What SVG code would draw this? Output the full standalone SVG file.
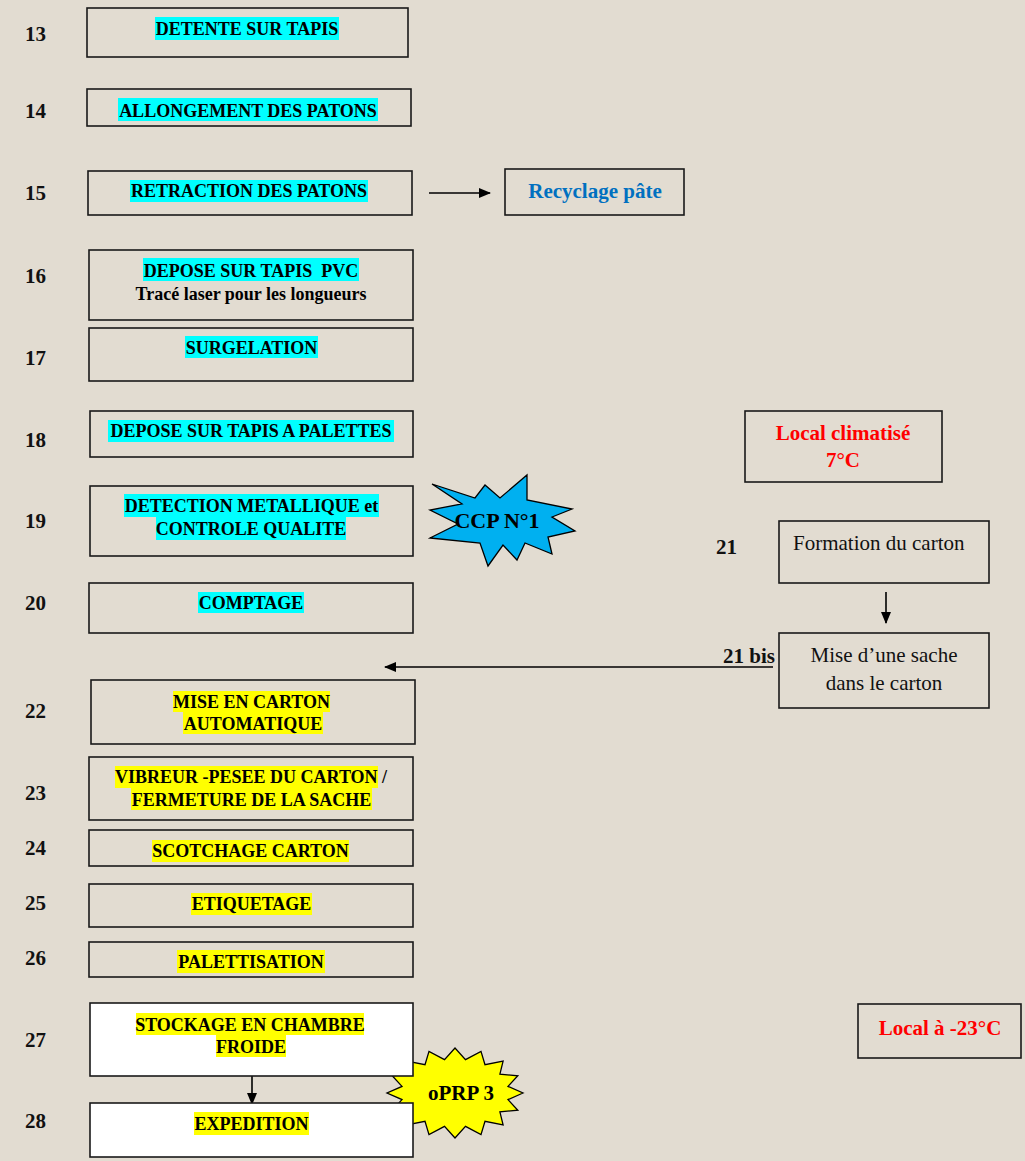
<svg xmlns="http://www.w3.org/2000/svg" width="1025" height="1161" viewBox="0 0 1025 1161">
<defs>
<style>
.bg{fill:#E2DCD1}
.box{fill:#E2DCD1;stroke:#1a1a1a;stroke-width:1.6}
.wbox{fill:#FFFFFF;stroke:#1a1a1a;stroke-width:1.6}
.num{font-family:"Liberation Serif","Times New Roman",serif;font-weight:bold;font-size:21px;fill:#111}
.t{font-family:"Liberation Serif","Times New Roman",serif;font-weight:bold;font-size:18px;fill:#000;text-anchor:middle}
.r{font-family:"Liberation Serif","Times New Roman",serif;font-size:21px;fill:#111}
.red{font-family:"Liberation Serif","Times New Roman",serif;font-weight:bold;font-size:21px;fill:#FF0000;text-anchor:middle}
.blue{font-family:"Liberation Serif","Times New Roman",serif;font-weight:bold;font-size:21px;fill:#0070C0;text-anchor:middle}
.cy{fill:#00FFFF}
.ye{fill:#FFFF00}
.conn{stroke:#000;stroke-width:1.6;fill:none}
.star{stroke:#000;stroke-width:1.3}
</style>
<marker id="ah" markerUnits="userSpaceOnUse" markerWidth="12" markerHeight="10" refX="11" refY="5" orient="auto">
<path d="M0,0 L12,5 L0,10 Z" fill="#000"/>
</marker>
</defs>
<rect class="bg" x="0" y="0" width="1025" height="1161"/>

<g id="labels">
<text class="num" x="25" y="41">13</text>
<text class="num" x="25" y="118">14</text>
<text class="num" x="25" y="200">15</text>
<text class="num" x="25" y="283">16</text>
<text class="num" x="25" y="365">17</text>
<text class="num" x="25" y="447">18</text>
<text class="num" x="25" y="528">19</text>
<text class="num" x="25" y="610">20</text>
<text class="num" x="716" y="554">21</text>
<text class="num" x="723" y="663">21 bis</text>
<text class="num" x="25" y="718">22</text>
<text class="num" x="25" y="800">23</text>
<text class="num" x="25" y="855">24</text>
<text class="num" x="25" y="910">25</text>
<text class="num" x="25" y="965">26</text>
<text class="num" x="25" y="1047">27</text>
<text class="num" x="25" y="1128">28</text>
</g>

<g id="oprp3">
<polygon class="star" fill="#FFFF00" points="523,1093 508,1099.6 517.8,1110.2 499.9,1111.9 503.1,1124.8 485,1121.3 481,1134.6 465.5,1126.4 455,1138 444.5,1126.4 429,1134.6 425,1121.3 406.9,1124.8 410.1,1111.9 392.2,1110.2 402,1099.6 387,1093 402,1086.4 392.2,1075.8 410.1,1074.1 406.9,1061.2 425,1064.7 429,1051.4 444.5,1059.6 455,1048 465.5,1059.6 481,1051.4 485,1064.7 503.1,1061.2 499.9,1074.1 517.8,1075.8 508,1086.4"/>
<text class="t" x="461" y="1100" style="font-size:21px">oPRP 3</text>
</g>

<g id="connectors">
<line class="conn" x1="429" y1="193" x2="490" y2="193" marker-end="url(#ah)"/>
<line class="conn" x1="886" y1="592" x2="886" y2="623" marker-end="url(#ah)"/>
<line class="conn" x1="773" y1="667" x2="385" y2="667" marker-end="url(#ah)"/>
<line class="conn" x1="252" y1="1069" x2="252" y2="1104" marker-end="url(#ah)"/>
</g>

<g id="n13">
<rect class="box" x="87" y="8" width="321" height="49"/>
<rect class="cy" x="155" y="17" width="184" height="23"/>
<text class="t" x="247" y="35">DETENTE SUR TAPIS</text>
</g>
<g id="n14">
<rect class="box" x="87" y="89" width="324" height="37"/>
<rect class="cy" x="118" y="98" width="260" height="23"/>
<text class="t" x="248" y="117">ALLONGEMENT DES PATONS</text>
</g>
<g id="n15">
<rect class="box" x="88" y="171" width="324" height="44"/>
<rect class="cy" x="130" y="180" width="238" height="22"/>
<text class="t" x="249" y="197">RETRACTION DES PATONS</text>
</g>
<g id="recyclage">
<rect class="box" x="505" y="169" width="179" height="46"/>
<text class="blue" x="595" y="198">Recyclage pâte</text>
</g>
<g id="n16">
<rect class="box" x="89" y="250" width="324" height="70"/>
<rect class="cy" x="143" y="258" width="216" height="23"/>
<text class="t" x="251" y="277" xml:space="preserve">DEPOSE SUR TAPIS  PVC</text>
<text class="t" x="251" y="300">Tracé laser pour les longueurs</text>
</g>
<g id="n17">
<rect class="box" x="89" y="328" width="324" height="53"/>
<rect class="cy" x="185" y="336" width="133" height="22"/>
<text class="t" x="251.5" y="354">SURGELATION</text>
</g>
<g id="n18">
<rect class="box" x="90" y="411" width="323" height="46"/>
<rect class="cy" x="108" y="420" width="286" height="22"/>
<text class="t" x="251" y="437">DEPOSE SUR TAPIS A PALETTES</text>
</g>
<g id="n19">
<rect class="box" x="90" y="486" width="323" height="70"/>
<rect class="cy" x="124" y="494" width="255" height="23"/>
<rect class="cy" x="156" y="517" width="190" height="23"/>
<text class="t" x="251.5" y="512">DETECTION METALLIQUE et</text>
<text class="t" x="251" y="535">CONTROLE QUALITE</text>
</g>
<g id="ccp1">
<polygon class="star" fill="#00B0F0" points="432,484 475,498 485,485 500,498 527,475 527,500 572,509 552,517 575,531 548,537 552,554 525,543 517,560 503,545 488,566 480,543 430,538 458,524 430,510 462,504"/>
<text class="t" x="497" y="528" style="font-size:22px">CCP N°1</text>
</g>
<g id="n20">
<rect class="box" x="89" y="583" width="324" height="50"/>
<rect class="cy" x="198" y="592" width="106" height="21"/>
<text class="t" x="251" y="609">COMPTAGE</text>
</g>
<g id="local7">
<rect class="box" x="745" y="411" width="197" height="71"/>
<text class="red" x="843" y="440">Local climatisé</text>
<text class="red" x="843" y="467">7°C</text>
</g>
<g id="n21">
<rect class="box" x="779" y="521" width="210" height="62"/>
<text class="r" x="793" y="550">Formation du carton</text>
</g>
<g id="n21bis">
<rect class="box" x="779" y="633" width="210" height="75"/>
<text class="r" x="884" y="662" text-anchor="middle">Mise d’une sache</text>
<text class="r" x="884" y="690" text-anchor="middle">dans le carton</text>
</g>
<g id="n22">
<rect class="box" x="91" y="680" width="324" height="64"/>
<rect class="ye" x="173" y="691" width="157" height="21"/>
<rect class="ye" x="183" y="712" width="140" height="22"/>
<text class="t" x="251.5" y="708">MISE EN CARTON</text>
<text class="t" x="253" y="730">AUTOMATIQUE</text>
</g>
<g id="n23">
<rect class="box" x="89" y="757" width="324" height="63"/>
<rect class="ye" x="115" y="766" width="263" height="22"/>
<rect class="ye" x="131" y="788" width="241" height="22"/>
<text class="t" x="115" y="783" style="text-anchor:start" xml:space="preserve">VIBREUR -PESEE DU CARTON /</text>
<text class="t" x="251.5" y="806">FERMETURE DE LA SACHE</text>
</g>
<g id="n24">
<rect class="box" x="89" y="830" width="324" height="36"/>
<rect class="ye" x="152" y="840" width="197" height="22"/>
<text class="t" x="250.5" y="857">SCOTCHAGE CARTON</text>
</g>
<g id="n25">
<rect class="box" x="89" y="884" width="324" height="43"/>
<rect class="ye" x="191" y="893" width="121" height="22"/>
<text class="t" x="251.5" y="910">ETIQUETAGE</text>
</g>
<g id="n26">
<rect class="box" x="89" y="942" width="324" height="35"/>
<rect class="ye" x="177" y="950" width="148" height="23"/>
<text class="t" x="251" y="968">PALETTISATION</text>
</g>
<g id="n27">
<rect class="wbox" x="90" y="1003" width="323" height="73"/>
<rect class="ye" x="136" y="1013" width="228" height="22"/>
<rect class="ye" x="216" y="1035" width="70" height="22"/>
<text class="t" x="250" y="1031">STOCKAGE EN CHAMBRE</text>
<text class="t" x="251" y="1053">FROIDE</text>
</g>
<g id="n28">
<rect class="wbox" x="90" y="1103" width="323" height="54"/>
<rect class="ye" x="194" y="1112" width="115" height="23"/>
<text class="t" x="251.5" y="1130">EXPEDITION</text>
</g>
<g id="local23">
<rect class="box" x="858" y="1004" width="163" height="54"/>
<text class="red" x="940" y="1035">Local à -23°C</text>
</g>
</svg>
